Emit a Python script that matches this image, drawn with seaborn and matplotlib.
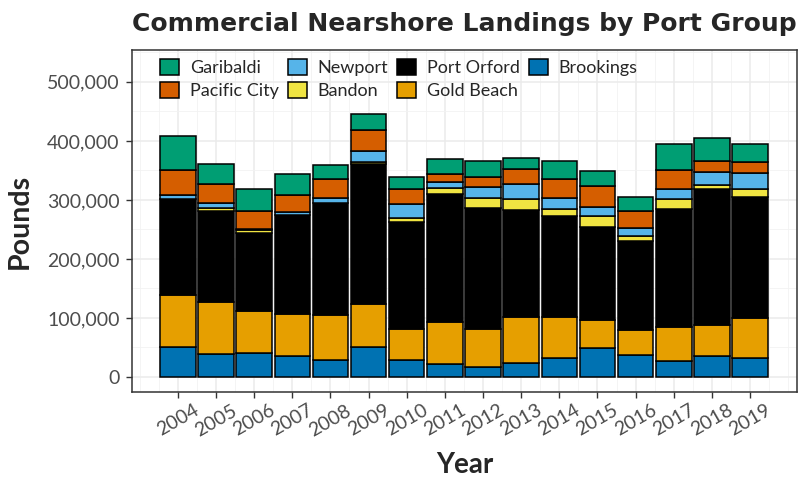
import pandas as pd
import numpy as np
import matplotlib.pyplot as plt
import seaborn as sns
from matplotlib.ticker import FuncFormatter, MultipleLocator

years = list(range(2004, 2020))
ports = ['Garibaldi', 'Pacific City', 'Newport', 'Bandon', 'Port Orford', 'Gold Beach', 'Brookings']

# pounds landed per port group, by year
brookings = [50800, 39500, 41200, 35000, 28200, 50800, 28200, 21400, 16900, 24300, 32100, 49600, 36700, 26500, 35000, 32100]
gold_beach = [88500, 87400, 69900, 72200, 76100, 73300, 52500, 71700, 63800, 77200, 69400, 47400, 43400, 58100, 52400, 67700]
port_orford = [162400, 155100, 133100, 167500, 190100, 236900, 182700, 217100, 205200, 181600, 170900, 156800, 151100, 200200, 231300, 205900]
bandon = [0, 4500, 5100, 500, 500, 3900, 6200, 10200, 17500, 18600, 12400, 19700, 8500, 16900, 7300, 13000]
newport = [6800, 8500, 1000, 4000, 8000, 18600, 23700, 10700, 19200, 25400, 18600, 15300, 12400, 17000, 22000, 26500]
pacific_city = [42900, 32100, 31700, 29300, 32700, 35000, 25400, 12900, 16900, 25400, 32200, 34400, 28800, 32700, 18600, 19700]
garibaldi = [57500, 33900, 36700, 35500, 24200, 27100, 20800, 25400, 26000, 18600, 29900, 26500, 24800, 43400, 38400, 29900]

colors = ['#009E73', '#D55E00', '#56B4E9', '#F0E442', '#000000', '#E69F00', '#0072B2']

series = {'Garibaldi': garibaldi, 'Pacific City': pacific_city, 'Newport': newport,
          'Bandon': bandon, 'Port Orford': port_orford, 'Gold Beach': gold_beach,
          'Brookings': brookings}
df = pd.concat([pd.DataFrame({'Year': years, 'Port': p, 'Pounds': v}) for p, v in series.items()],
               ignore_index=True)

sns.set_theme(style="whitegrid")
plt.rcParams['font.family'] = ['Lato', 'DejaVu Sans']

fig = plt.figure(figsize=(8.11, 4.79), dpi=100)
ax = fig.add_axes([132 / 811, 1 - 392 / 479, 665 / 811, 342 / 479])

sns.histplot(data=df, x='Year', weights='Pounds', hue='Port', hue_order=ports,
             multiple='stack', discrete=True, shrink=0.93, palette=colors,
             alpha=1, edgecolor='black', linewidth=1.1, ax=ax)

ax.set_xlim(2004 - 1.2, 2019 + 1.23)
ax.set_ylim(-25400, 554000)
ax.set_xticks(years)
ax.set_xticklabels([str(y) for y in years], rotation=30, ha='center', color='#4D4D4D', fontsize=14)
ax.xaxis.set_minor_locator(MultipleLocator(0.5))
ax.yaxis.set_major_locator(MultipleLocator(100000))
ax.yaxis.set_minor_locator(MultipleLocator(50000))
ax.yaxis.set_major_formatter(FuncFormatter(lambda v, p: f'{int(v):,}'))
for lab in ax.get_yticklabels():
    lab.set_color('#4D4D4D')
    lab.set_fontsize(14)

ax.grid(which='major', color='#EBEBEB', linewidth=1.1)
ax.grid(which='minor', color='#F2F2F2', linewidth=0.6)
ax.set_axisbelow(True)
ax.tick_params(axis='both', which='major', length=4, color='#333333', width=1, direction='out',
               bottom=True, left=True, pad=3)
ax.tick_params(axis='y', which='major', pad=5)
ax.tick_params(axis='both', which='minor', length=0)
for s in ax.spines.values():
    s.set_color('#333333')
    s.set_linewidth(1.1)

ax.set_title('Commercial Nearshore Landings by Port Group', fontsize=18, fontweight='bold',
             family=['DejaVu Sans'], pad=14)
ax.set_xlabel('Year', fontsize=20, fontweight='bold', labelpad=9)
ax.set_ylabel('Pounds', fontsize=20.5, fontweight='bold', labelpad=10)

sns.move_legend(ax, 'upper left', bbox_to_anchor=(0.042, 0.975), ncol=4, frameon=False, title=None,
                fontsize=13, borderaxespad=0, borderpad=0, handlelength=1.05, handleheight=1.05,
                handletextpad=0.6, columnspacing=0.5, labelspacing=0.3)
leg = ax.get_legend()
for h in leg.legend_handles:
    h.set_edgecolor('black')
    h.set_linewidth(1.1)

fig.savefig('out.png', dpi=100)
